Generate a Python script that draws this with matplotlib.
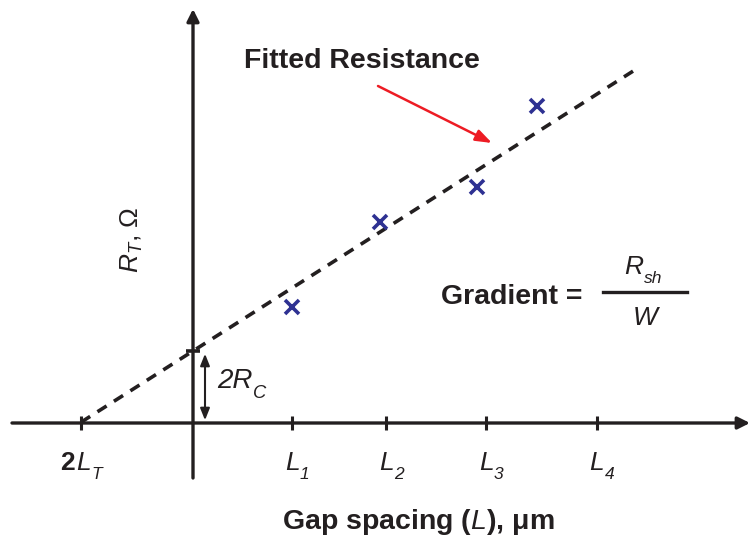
import matplotlib
matplotlib.use("Agg")
import matplotlib.pyplot as plt

plt.rcParams['font.family'] = ['Liberation Sans', 'DejaVu Sans']
plt.rcParams['mathtext.fontset'] = 'custom'
plt.rcParams['mathtext.rm'] = 'Liberation Sans'
plt.rcParams['mathtext.it'] = 'Liberation Sans:italic'
plt.rcParams['mathtext.bf'] = 'Liberation Sans:bold'

# tick positions on the gap axis (schematic units)
tick_pos = [-1.12, 0.99, 1.93, 2.93, 4.04]
tick_subs = ['T', '1', '2', '3', '4']

# measured resistances
meas_x = [0.99, 1.87, 2.84, 3.44]
meas_y = [1.16, 2.01, 2.36, 3.17]

# fitted line
intercept = 0.72
slope = 0.636
fit_x = [-1.12, 4.40]
fit_y = [intercept + slope * x for x in fit_x]

fig = plt.figure(figsize=(7.5, 5.36), dpi=100)
ax = fig.add_axes([0, 0, 1, 1])
ax.set_xlim(-1.93, 5.57)
ax.set_ylim(-1.13, 4.23)
ax.axis('off')

ink = '#231f20'


def add_sub(parent, sub, size):
    # italic subscript glued to the bottom right of parent text
    return ax.annotate(sub, xy=(1, 0), xycoords=parent, xytext=(0.5, -size * 0.28),
                       textcoords='offset points', fontsize=size * 0.66,
                       fontstyle='italic', color=ink, ha='left', va='bottom')


# axes with arrows
ax.annotate('', xy=(5.57, 0), xytext=(-1.81, 0),
            arrowprops=dict(arrowstyle='-|>', color=ink, lw=2.4,
                            mutation_scale=18, shrinkA=0, shrinkB=0))
ax.annotate('', xy=(0, 4.14), xytext=(0, -0.55),
            arrowprops=dict(arrowstyle='-|>', color=ink, lw=2.4,
                            mutation_scale=18, shrinkA=0, shrinkB=0))

# x ticks
for i, (x, s) in enumerate(zip(tick_pos, tick_subs)):
    ax.plot([x, x], [-0.07, 0.07], color=ink, lw=2.2, solid_capstyle='butt')
    if i == 0:
        two = ax.text(x - 0.06, -0.52, '2', ha='right', va='bottom', fontsize=19,
                      fontweight='bold', color=ink)
        main = ax.annotate('L', xy=(1, 0), xycoords=two, xytext=(0.5, 0),
                           textcoords='offset points', fontsize=19,
                           fontstyle='italic', color=ink, ha='left', va='bottom')
    else:
        main = ax.text(x, -0.52, 'L', ha='center', va='bottom', fontsize=19,
                       fontstyle='italic', color=ink)
    add_sub(main, s, 19)

# y tick at intercept
ax.plot([-0.07, 0.07], [intercept, intercept], color=ink, lw=2.6,
        solid_capstyle='butt')

# fitted line and measured points
ax.plot(fit_x, fit_y, color=ink, lw=2.6, linestyle=(0, (3, 2.4)))
ax.plot(meas_x, meas_y, 'x', color='#2e3192', markersize=10, mew=2.6)

# 2Rc double arrow
ax.annotate('', xy=(0.12, 0.0), xytext=(0.12, intercept),
            arrowprops=dict(arrowstyle='<|-|>,head_length=0.5,head_width=0.2',
                            color=ink, lw=1.5, mutation_scale=14,
                            shrinkA=2, shrinkB=2))
rc = ax.text(0.24, 0.29, '2R', ha='left', va='bottom', fontsize=20,
             fontstyle='italic', color=ink)
add_sub(rc, 'C', 20)

# labels
ax.text(-0.61, 1.83, r'$\mathit{R}_{\mathit{T}}$, Ω', rotation=90, ha='center',
        va='center', fontsize=19, color=ink)
ax.text(2.25, -0.99, r'Gap spacing ($\mathit{L}$), μm', ha='center', va='center',
        fontsize=20.5, fontweight='bold', color=ink)
ax.text(0.51, 3.62, 'Fitted Resistance', ha='left', va='center',
        fontsize=20.5, fontweight='bold', color=ink)
ax.annotate('', xy=(2.99, 2.80), xytext=(1.85, 3.37),
            arrowprops=dict(arrowstyle='-|>,head_length=0.7,head_width=0.25',
                            color='#ed1c24', lw=1.8, mutation_scale=14,
                            shrinkA=0, shrinkB=0))

# gradient formula
ax.text(2.48, 1.26, 'Gradient =', ha='left', va='center', fontsize=20.5,
        fontweight='bold', color=ink)
ax.plot([4.10, 4.94], [1.31, 1.31], color=ink, lw=2.4)
rsh = ax.text(4.31, 1.44, 'R', ha='left', va='bottom', fontsize=19,
              fontstyle='italic', color=ink)
add_sub(rsh, 'sh', 19)
ax.text(4.52, 1.05, 'W', ha='center', va='center', fontsize=19,
        fontstyle='italic', color=ink)

fig.savefig('out.png', dpi=100)
